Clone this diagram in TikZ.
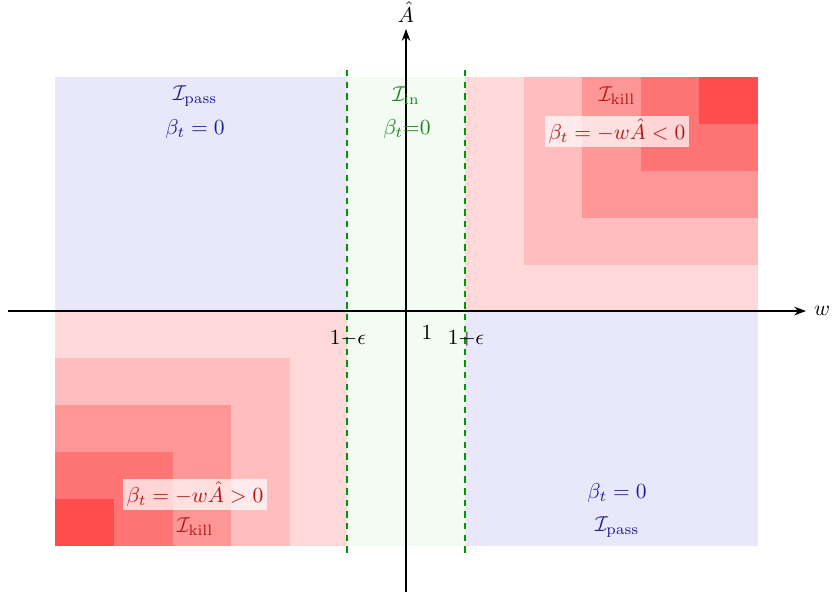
\documentclass[tikz,border=0pt]{standalone}
\usetikzlibrary{arrows.meta}
\definecolor{passfill}{RGB}{232,232,250}
\definecolor{infill}{RGB}{242,252,242}
\definecolor{rA}{RGB}{255,217,217}
\definecolor{rB}{RGB}{255,189,189}
\definecolor{rC}{RGB}{255,150,150}
\definecolor{rD}{RGB}{255,117,117}
\definecolor{rE}{RGB}{255,77,77}
\definecolor{passtext}{RGB}{30,30,140}
\definecolor{intext}{RGB}{30,130,30}
\definecolor{killtext}{RGB}{180,20,20}
\definecolor{dashgreen}{RGB}{0,150,0}
\tikzset{
  axis/.style={line width=0.7pt,-{Stealth[length=5.5pt,width=4pt]}},
  bound/.style={dashgreen,line width=0.6pt,dash pattern=on 3pt off 2.4pt},
  passlbl/.style={text=passtext,inner sep=1pt},
  inlbl/.style={text=intext,inner sep=1pt},
  killlbl/.style={text=killtext,inner sep=1pt},
  killbox/.style={text=killtext,fill=white,fill opacity=0.7,text opacity=1,inner sep=1.5pt},
  ticklbl/.style={inner sep=1pt}
}
\begin{document}
\begin{tikzpicture}[x=0.465pt,y=-0.465pt]
\useasboundingbox (0,0) rectangle (833,594);
% regions
\fill[passfill] (55,77) rectangle (347,311);
\fill[passfill] (465,311) rectangle (758,546);
\fill[infill] (347,77) rectangle (465,546);
% top-right kill
\fill[rA] (465,77) rectangle (758,311);
\fill[rB] (524,77) rectangle (758,265);
\fill[rC] (582,77) rectangle (758,218);
\fill[rD] (641,77) rectangle (758,171);
\fill[rE] (699,77) rectangle (758,124);
% bottom-left kill
\fill[rA] (55,311) rectangle (347,546);
\fill[rB] (55,358) rectangle (290,546);
\fill[rC] (55,405) rectangle (231,546);
\fill[rD] (55,452) rectangle (173,546);
\fill[rE] (55,499) rectangle (114,546);
% dashed boundaries
\coordinate (lt) at (347,70); \coordinate (lb) at (347,556);
\coordinate (rt) at (465,70); \coordinate (rb) at (465,556);
\draw[bound] (lt) -- (lb);
\draw[bound] (rt) -- (rb);
% axes
\coordinate (xs) at (8,311); \coordinate (xe) at (806,311);
\coordinate (ys) at (406,592); \coordinate (ye) at (406,29);
\draw[axis] (xs) -- (xe);
\draw[axis] (ys) -- (ye);
\node (wl) at (822,311) {$w$};
\node (al) at (406,12) {$\hat{A}$};
% ticks
\node[ticklbl] (t1) at (348,338) {$1{-}\epsilon$};
\node[ticklbl] (t2) at (427,333) {$1$};
\node[ticklbl] (t3) at (466,338) {$1{+}\epsilon$};
% labels
\node[passlbl] (p1) at (195,96) {$\mathcal{I}_{\mathrm{pass}}$};
\node[passlbl] (p1b) at (195,129) {$\beta_t=0$};
\node[inlbl] (i1) at (406,96) {$\mathcal{I}_{\mathrm{in}}$};
\node[inlbl] (i1b) at (407,129) {$\beta_t{=}0$};
\node[killlbl] (k1) at (617,96) {$\mathcal{I}_{\mathrm{kill}}$};
\node[killbox] (k1b) at (617,131) {$\beta_t=-w\hat{A}<0$};
\node[killbox] (k2b) at (195,494) {$\beta_t=-w\hat{A}>0$};
\node[killlbl] (k2) at (195,527) {$\mathcal{I}_{\mathrm{kill}}$};
\node[passlbl] (p2b) at (617,493) {$\beta_t=0$};
\node[passlbl] (p2) at (617,527) {$\mathcal{I}_{\mathrm{pass}}$};
\end{tikzpicture}
\end{document}
